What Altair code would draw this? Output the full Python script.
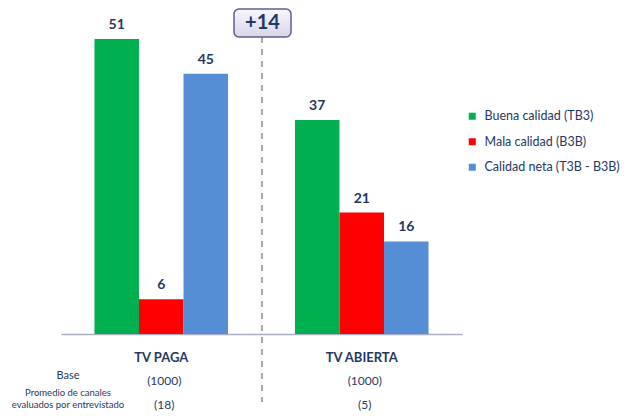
import altair as alt
import pandas as pd

grupos = ["TV PAGA", "TV ABIERTA"]
series = ["Buena calidad (TB3)", "Mala calidad (B3B)", "Calidad neta (T3B - B3B)"]
buena = [51, 37]
mala = [6, 21]
neta = [45, 16]
base_vals = ["(1000)", "(1000)"]
promedio_vals = ["(18)", "(5)"]
diferencia = ["+14"]
colores = ["#00B050", "#FF0000", "#558ED5"]
NAVY = "#1F3864"
FONT = "Lato"

rows = []
for i, g in enumerate(grupos):
    for s, vals in zip(series, [buena, mala, neta]):
        rows.append({"grupo": g, "serie": s, "valor": vals[i]})
df = pd.DataFrame(rows)

info = pd.DataFrame({"grupo": grupos, "base": base_vals, "promedio": promedio_vals})
rowlab = pd.DataFrame({"t": ["Base", "Promedio de canales", "evaluados por entrevistado"],
                       "yy": [366, 383, 394.5], "fs": [11, 9.5, 9.5]})
diff_df = pd.DataFrame({"t": diferencia})

W, H = 401, 324

x_enc = alt.X("grupo:N", sort=grupos,
              scale=alt.Scale(paddingInner=0.334, paddingOuter=0.167),
              axis=alt.Axis(title=None, labelAngle=0, ticks=False, tickSize=0,
                            labelPadding=17, labelFont=FONT, labelFontSize=13,
                            labelFontWeight="bold", labelColor=NAVY,
                            domainColor="#A9AEC0", domainWidth=1.3, grid=False))
xo_enc = alt.XOffset("serie:N", sort=series, scale=alt.Scale(paddingInner=0, paddingOuter=0))
y_enc = alt.Y("valor:Q", scale=alt.Scale(domain=[0, 56]), axis=None)

bars = alt.Chart(df).mark_bar().encode(
    x=x_enc, xOffset=xo_enc, y=y_enc,
    color=alt.Color("serie:N", sort=series,
                    scale=alt.Scale(domain=series, range=colores),
                    legend=alt.Legend(title=None, orient="none", legendX=405, legendY=100,
                                      symbolType="square", symbolSize=49, symbolStrokeWidth=0,
                                      labelFont=FONT, labelFontSize=12.5, labelColor=NAVY,
                                      labelOffset=6, rowPadding=12.5, padding=0, labelLimit=220)),
)

labels = alt.Chart(df).mark_text(dy=-14, font=FONT, fontSize=14, fontWeight="bold",
                                 color=NAVY).encode(
    x=x_enc, xOffset=xo_enc, y=y_enc, text="valor:Q")

rule = alt.Chart(diff_df).mark_rule(color="#8C8C8C", strokeWidth=1.5, strokeDash=[6, 6]).encode(
    x=alt.value(201), y=alt.value(27), y2=alt.value(392))

box = alt.Chart(diff_df).mark_rect(
    cornerRadius=5, stroke="#5F5F8F", strokeWidth=1.5,
    fill=alt.Gradient(gradient="linear", x1=0, y1=0, x2=0, y2=1,
                      stops=[alt.GradientStop(color="#F7F7FC", offset=0),
                             alt.GradientStop(color="#D6D6EA", offset=1)])).encode(
    x=alt.value(173), x2=alt.value(230), y=alt.value(-1), y2=alt.value(27))

box_text = alt.Chart(diff_df).mark_text(font=FONT, fontSize=20, fontWeight="bold",
                                        color=NAVY, baseline="middle").encode(
    x=alt.value(201.5), y=alt.value(13), text="t:N")

base_t = alt.Chart(info).mark_text(font=FONT, fontSize=12, color=NAVY, baseline="middle", dx=3).encode(
    x=alt.X("grupo:N", sort=grupos), y=alt.value(371), text="base:N")
prom_t = alt.Chart(info).mark_text(font=FONT, fontSize=12, color=NAVY, baseline="middle", dx=3).encode(
    x=alt.X("grupo:N", sort=grupos), y=alt.value(395), text="promedio:N")

row_t = alt.Chart(rowlab).mark_text(font=FONT, color=NAVY, baseline="middle", align="center").encode(
    x=alt.value(7), y=alt.Y("yy:Q", scale=None), size=alt.Size("fs:Q", scale=None, legend=None),
    text="t:N")

chart = alt.layer(bars, labels, rule, box, box_text, base_t, prom_t, row_t).properties(
    width=W, height=H,
    autosize=alt.AutoSizeParams(type="none"),
    padding={"left": 53, "top": 2, "right": 163, "bottom": 78},
).configure_view(stroke=None)

chart.save("out.html", embed_options={"renderer": "svg", "actions": False})
